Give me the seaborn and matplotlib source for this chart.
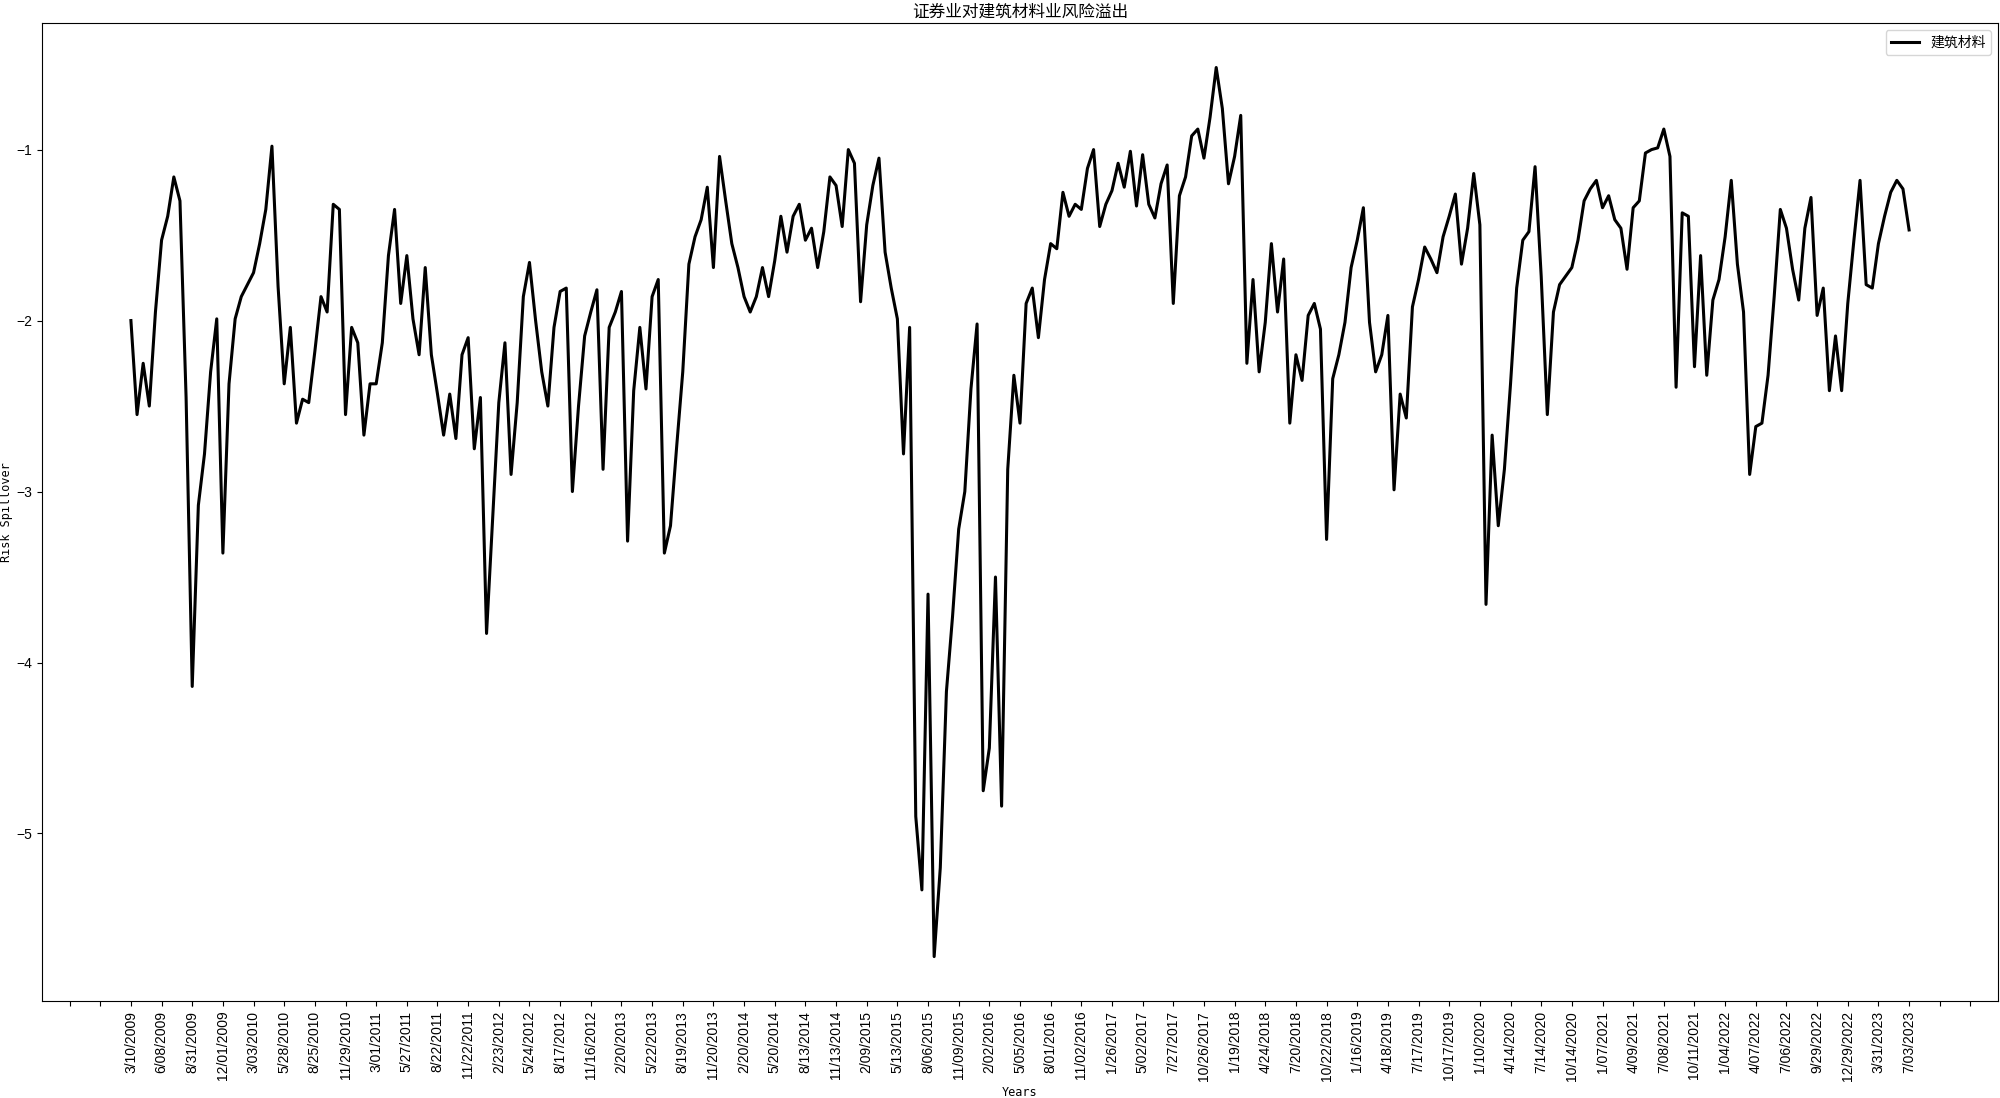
import numpy as np
import pandas as pd
import matplotlib
matplotlib.use("Agg")
import matplotlib.pyplot as plt
import seaborn as sns

# ---- data (one value every 12 trading days) ----
spill_2009_2011 = [
    -2.00, -2.55, -2.25, -2.50, -1.95, -1.53, -1.39, -1.16, -1.30, -2.45,
    -4.14, -3.08, -2.78, -2.30, -1.99, -3.36, -2.37, -1.99, -1.86, -1.79,
    -1.72, -1.55, -1.35, -0.98, -1.80, -2.37, -2.04, -2.60, -2.46, -2.48,
    -2.18, -1.86, -1.95, -1.32, -1.35, -2.55, -2.04, -2.13, -2.67, -2.37,
    -2.37, -2.13, -1.62, -1.35, -1.90, -1.62, -1.99, -2.20, -1.69, -2.20,
    -2.43, -2.67, -2.43,
]
spill_2011_2014 = [
    -2.69, -2.20, -2.10, -2.75, -2.45, -3.83, -3.15, -2.48, -2.13, -2.90,
    -2.48, -1.86, -1.66, -2.00, -2.30, -2.50, -2.04, -1.83, -1.81, -3.00,
    -2.50, -2.09, -1.95, -1.82, -2.87, -2.04, -1.95, -1.83, -3.29, -2.41,
    -2.04, -2.40, -1.86, -1.76, -3.36, -3.20, -2.74, -2.30, -1.67, -1.51,
    -1.41, -1.22, -1.69, -1.04, -1.30, -1.55, -1.69, -1.86, -1.95, -1.86,
    -1.69, -1.86, -1.65,
]
spill_2014_2016 = [
    -1.39, -1.60, -1.39, -1.32, -1.53, -1.46, -1.69, -1.48, -1.16, -1.21,
    -1.45, -1.00, -1.08, -1.89, -1.44, -1.21, -1.05, -1.60, -1.81, -1.99,
    -2.78, -2.04, -4.90, -5.33, -3.60, -5.72, -5.20, -4.17, -3.73, -3.22,
    -3.00, -2.40, -2.02, -4.75, -4.50, -3.50, -4.84, -2.87, -2.32, -2.60,
    -1.90, -1.81, -2.10, -1.76, -1.55, -1.58, -1.25, -1.39, -1.32, -1.35,
    -1.11, -1.00, -1.45,
]
spill_2016_2019 = [
    -1.32, -1.24, -1.08, -1.22, -1.01, -1.33, -1.03, -1.32, -1.40, -1.20,
    -1.09, -1.90, -1.27, -1.16, -0.92, -0.88, -1.05, -0.81, -0.52, -0.76,
    -1.20, -1.04, -0.80, -2.25, -1.76, -2.30, -2.01, -1.55, -1.95, -1.64,
    -2.60, -2.20, -2.35, -1.97, -1.90, -2.05, -3.28, -2.34, -2.20, -2.01,
    -1.69, -1.53, -1.34, -2.01, -2.30, -2.20, -1.97, -2.99, -2.43, -2.57,
    -1.92, -1.76, -1.57, -1.64,
]
spill_2019_2021 = [
    -1.72, -1.51, -1.39, -1.26, -1.67, -1.46, -1.14, -1.44, -3.66, -2.67,
    -3.20, -2.87, -2.37, -1.81, -1.53, -1.48, -1.10, -1.74, -2.55, -1.95,
    -1.79, -1.74, -1.69, -1.53, -1.30, -1.23, -1.18, -1.34, -1.27, -1.41,
    -1.46, -1.70, -1.34, -1.30, -1.02, -1.00, -0.99, -0.88, -1.04,
]
spill_2021_2023 = [
    -2.39, -1.37, -1.39, -2.27, -1.62, -2.32, -1.88, -1.76, -1.51, -1.18,
    -1.67, -1.95, -2.90, -2.62, -2.60, -2.32, -1.86, -1.35, -1.46, -1.70,
    -1.88, -1.46, -1.28, -1.97, -1.81, -2.41, -2.09, -2.41, -1.90, -1.53,
    -1.18, -1.79, -1.81, -1.55, -1.39, -1.25, -1.18, -1.23, -1.47,
]

date_labels = [
    "3/10/2009", "6/08/2009", "8/31/2009", "12/01/2009", "3/03/2010", "5/28/2010",
    "8/25/2010", "11/29/2010", "3/01/2011", "5/27/2011", "8/22/2011", "11/22/2011",
    "2/23/2012", "5/24/2012", "8/17/2012", "11/16/2012", "2/20/2013", "5/22/2013",
    "8/19/2013", "11/20/2013", "2/20/2014", "5/20/2014", "8/13/2014", "11/13/2014",
    "2/09/2015", "5/13/2015", "8/06/2015", "11/09/2015", "2/02/2016", "5/05/2016",
    "8/01/2016", "11/02/2016", "1/26/2017", "5/02/2017", "7/27/2017", "10/26/2017",
    "1/19/2018", "4/24/2018", "7/20/2018", "10/22/2018", "1/16/2019", "4/18/2019",
    "7/17/2019", "10/17/2019", "1/10/2020", "4/14/2020", "7/14/2020", "10/14/2020",
    "1/07/2021", "4/09/2021", "7/08/2021", "10/11/2021", "1/04/2022", "4/07/2022",
    "7/06/2022", "9/29/2022", "12/29/2022", "3/31/2023", "7/03/2023",
]

series_name = "建筑材料"
title_text = "证券业对建筑材料业风险溢出"
samples_per_label = 5  # a date label every 5 samples (60 trading days)

values = (spill_2009_2011 + spill_2011_2014 + spill_2014_2016
          + spill_2016_2019 + spill_2019_2021 + spill_2021_2023)
df = pd.DataFrame({"t": np.arange(len(values)), "v": values})

# ---- figure ----
plt.rcParams["font.family"] = ["Liberation Sans", "Noto Sans CJK SC", "DejaVu Sans"]
plt.rcParams["axes.unicode_minus"] = True

fig = plt.figure(figsize=(20, 10.98), dpi=100)
ax = fig.add_axes([0.021, 0.0883, 0.978, 0.8907])

sns.lineplot(data=df, x="t", y="v", ax=ax, color="black", linewidth=2.2,
             label=series_name, estimator=None, sort=False)

step = samples_per_label
ticks = np.arange(-2 * step, len(values) + 2 * step, step)
tick_labels = ["", ""] + date_labels + [""] * (len(ticks) - 2 - len(date_labels))
ax.set_xticks(ticks)
ax.set_xticklabels(tick_labels, rotation=90, fontsize=10)
ax.tick_params(axis="y", labelsize=10)
ax.margins(x=0.05, y=0.05)

ax.set_xlabel("Years", family="DejaVu Sans Mono", fontsize=8.5)
ax.set_ylabel("Risk Spillover", family="DejaVu Sans Mono", fontsize=8.5)
ax.yaxis.set_label_coords(-0.0148, 0.5)
ax.set_title(title_text, family=["Noto Sans CJK SC", "DejaVu Sans"], fontsize=12, pad=5)

leg = ax.legend(loc="upper right", prop={"family": ["Noto Sans CJK SC", "DejaVu Sans"], "size": 10})

fig.savefig("out.png", dpi=100)
